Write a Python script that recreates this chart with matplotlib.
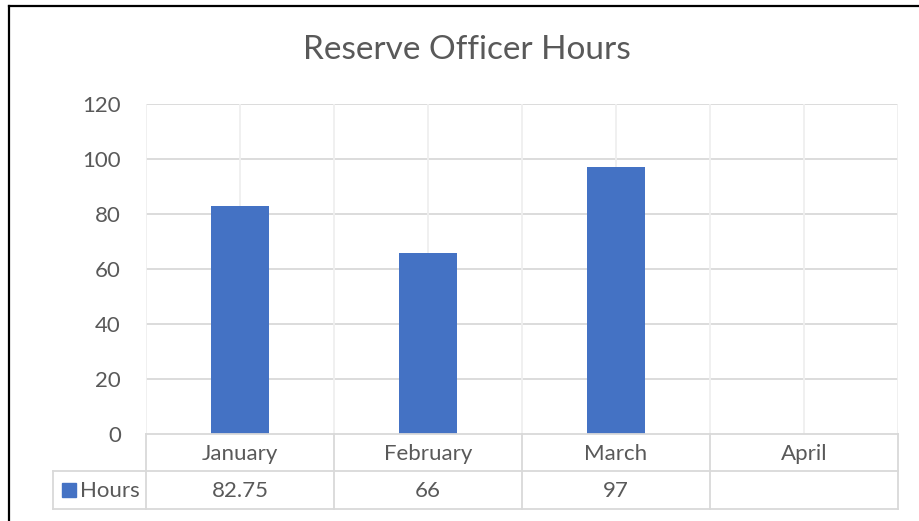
import matplotlib.pyplot as plt
import numpy as np
from matplotlib.lines import Line2D
from matplotlib.patches import Rectangle

months = ['January', 'February', 'March', 'April']
hours = [82.75, 66, 97, np.nan]
hours_labels = ['82.75', '66', '97', '']
yticks = [0, 20, 40, 60, 80, 100, 120]

W, H = 919, 521
BLUE = '#4472C4'
TXT = '#595959'
GRID = '#d9d9d9'
FS = 16

plt.rcParams['font.family'] = ['Lato', 'DejaVu Sans']

fig = plt.figure(figsize=(W / 100, H / 100), dpi=100)


def fx(px):
    return px / W


def fy(py):
    return 1 - py / H


# plot area in pixels
L, R, T, B = 146, 898, 104, 434
ax = fig.add_axes([fx(L), fy(B), fx(R) - fx(L), fy(T) - fy(B)])

x = np.arange(len(months))
ax.bar(x, hours, width=0.31, color=BLUE, zorder=3)
ax.set_xlim(-0.5, len(months) - 0.5)
ax.set_ylim(0, 120)
ax.set_yticks(yticks)
ax.set_yticklabels([str(v) for v in yticks], fontsize=FS, color=TXT)
ax.tick_params(axis='y', length=0, pad=18)
ax.set_xticks([])
for s in ax.spines.values():
    s.set_visible(False)
for v in yticks[1:]:
    ax.axhline(v, color=GRID, lw=1.3, zorder=1)
# vertical gridlines every half category
for xv in np.arange(-0.5, len(months), 0.5):
    ax.axvline(xv, color='#efefef', lw=1.3, zorder=1)

fig.text(fx(467), fy(50), 'Reserve Officer Hours', ha='center', va='center',
         fontsize=24, color=TXT)

# data table below the axes
row1, row2, row3 = 434, 471, 509
leg_left = 53
cell_w = (R - L) / len(months)


def hline(x0, x1, y):
    fig.add_artist(Line2D([fx(x0), fx(x1)], [fy(y), fy(y)], color=GRID, lw=1.3))


def vline(xp, y0, y1):
    fig.add_artist(Line2D([fx(xp), fx(xp)], [fy(y0), fy(y1)], color=GRID, lw=1.3))


hline(L, R, row1)
hline(leg_left, R, row2)
hline(leg_left, R, row3)
for i in range(len(months) + 1):
    vline(L + i * cell_w, row1, row3)
vline(leg_left, row2, row3)

for i, m in enumerate(months):
    cx = L + (i + 0.5) * cell_w
    fig.text(fx(cx), fy((row1 + row2) / 2 + 1), m, ha='center', va='center',
             fontsize=FS, color=TXT)
    fig.text(fx(cx), fy((row2 + row3) / 2 + 1), hours_labels[i], ha='center',
             va='center', fontsize=FS, color=TXT)

fig.add_artist(Rectangle((fx(62), fy(497)), fx(14), 14 / H, color=BLUE))
fig.text(fx(80), fy((row2 + row3) / 2 + 1), 'Hours', ha='left', va='center',
         fontsize=FS, color=TXT)

# outer border of the chart
fig.add_artist(Line2D([fx(8.5), fx(8.5)], [fy(5.5), 0], color='black', lw=1.6))
fig.add_artist(Line2D([fx(8.5), 1], [fy(5.5), fy(5.5)], color='black', lw=1.6))

fig.savefig('out.png', dpi=100)
